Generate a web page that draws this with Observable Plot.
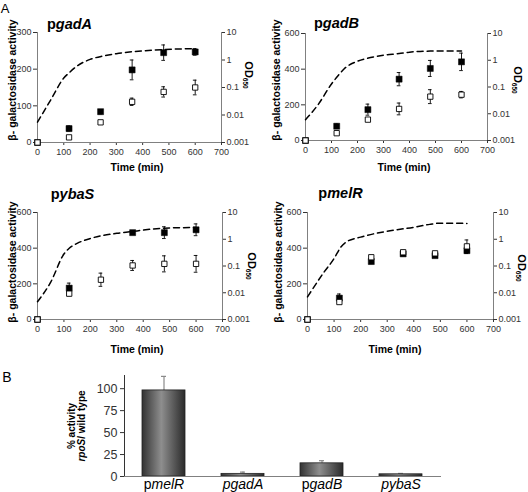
<!DOCTYPE html>
<html>
<head>
<meta charset="utf-8">
<script src="https://cdn.jsdelivr.net/npm/d3@7"></script>
<script src="https://cdn.jsdelivr.net/npm/@observablehq/plot@0.6"></script>
<style>
  html, body { margin: 0; padding: 0; background: #fff; }
  #root { position: relative; width: 528px; height: 492px; overflow: hidden; background: #fff;
          font-family: "Liberation Sans", Arial, sans-serif; color: #000; }
</style>
</head>
<body>
<div id="root"></div>
<script>
// ---------------- data ----------------
const timePoints = [0, 120, 240, 360, 480, 600];
const xTicks = [0, 100, 200, 300, 400, 500, 600, 700];
const odTicks = [0.001, 0.01, 0.1, 1, 10];

// pgadA
const gadA_filled = [0, 38, 84, 198, 245, 247];
const gadA_filledErr = [0, 7, 6, 27, 21, 9];
const gadA_open = [0, 14, 55, 111, 138, 150];
const gadA_openErr = [0, 4, 3, 10, 14, 20];
const gadA_odTime = [0, 50, 100, 120, 150, 200, 250, 300, 360, 400, 480, 600];
const gadA_od = [0.0055, 0.035, 0.22, 0.34, 0.6, 1.05, 1.4, 1.7, 2.0, 2.15, 2.4, 2.6];

// pgadB
const gadB_filled = [0, 80, 173, 344, 404, 441];
const gadB_filledErr = [0, 12, 31, 37, 45, 49];
const gadB_open = [0, 41, 117, 177, 246, 257];
const gadB_openErr = [0, 5, 10, 33, 39, 18];
const gadB_odTime = [0, 50, 100, 120, 150, 200, 250, 300, 360, 400, 480, 600];
const gadB_od = [0.006, 0.023, 0.13, 0.23, 0.49, 0.92, 1.26, 1.55, 1.78, 2.0, 2.2, 2.24];

// pybaS
const ybaS_filled = [0, 176, null, 487, 487, 503];
const ybaS_filledErr = [0, 28, 0, 10, 33, 33];
const ybaS_open = [0, 145, 223, 303, 312, 312];
const ybaS_openErr = [0, 12, 37, 28, 45, 47];
const ybaS_odTime = [0, 50, 100, 120, 150, 200, 300, 360, 400, 480, 600];
const ybaS_od = [0.0046, 0.025, 0.28, 0.46, 0.7, 1.07, 1.66, 1.95, 2.2, 2.6, 2.75];

// pmelR
const melR_filled = [0, 120, 325, 368, 358, 386];
const melR_filledErr = [0, 23, 12, 5, 5, 16];
const melR_open = [0, 98, 349, 377, 371, 410];
const melR_openErr = [0, 8, 8, 6, 6, 36];
const melR_odTime = [0, 60, 100, 125, 145, 200, 300, 400, 460, 500, 600];
const melR_od = [0.007, 0.055, 0.19, 0.5, 0.78, 1.2, 2.0, 2.8, 3.6, 4.0, 3.9];

// panel B
const barNames = ["pmelR", "pgadA", "pgadB", "pybaS"];
const barValues = [98, 3, 15, 2.5];
const barErrors = [16, 2, 3, 1];
const barItalicFrom = [1, 0, 1, 0];
const barTicks = [0, 25, 50, 75, 100];

// ---------------- drawing ----------------
const NS = "http://www.w3.org/2000/svg";
const FONT = '"Liberation Sans", Arial, sans-serif';
const root = document.getElementById("root");
const AXIS = "#808080";

function mkRows(vals, errs) {
  return timePoints.map((t, i) => ({t, v: vals[i], e: errs[i]})).filter(d => d.v != null);
}
function errMarks(rows) {
  const r = rows.filter(d => d.e > 0);
  const cap = 7;
  return [
    Plot.ruleX(r, {x: "t", y1: d => d.v - d.e, y2: d => d.v + d.e, stroke: "#000", strokeWidth: 0.9}),
    Plot.ruleY(r, {y: d => d.v - d.e, x1: d => d.t - cap, x2: d => d.t + cap, stroke: "#000", strokeWidth: 0.9}),
    Plot.ruleY(r, {y: d => d.v + d.e, x1: d => d.t - cap, x2: d => d.t + cap, stroke: "#000", strokeWidth: 0.9})
  ];
}

function panel(cfg) {
  const box = document.createElement("div");
  box.style.cssText = `position:absolute;left:${cfg.left}px;top:${cfg.top}px;width:${cfg.w}px;height:${cfg.h}px;`;
  const common = {
    width: cfg.w, height: cfg.h,
    marginTop: cfg.mt, marginRight: cfg.mr, marginBottom: cfg.mb, marginLeft: cfg.ml,
    style: {background: "transparent", fontFamily: FONT, fontSize: "9px", color: "#333", overflow: "visible"}
  };
  const filled = mkRows(cfg.filled, cfg.filledErr);
  const open = mkRows(cfg.open, cfg.openErr);
  const lin = Plot.plot({
    ...common,
    x: {domain: [0, 700], ticks: xTicks, tickSize: 3, tickPadding: 3, label: null},
    y: {domain: [0, cfg.ymax], ticks: cfg.yTicks, tickSize: 4, tickPadding: 2, label: null},
    marks: [
      Plot.ruleX([0], {stroke: AXIS}),
      Plot.ruleY([0], {stroke: AXIS}),
      ...errMarks(open),
      ...errMarks(filled),
      Plot.dot(filled, {x: "t", y: "v", symbol: "square", r: 3.4, fill: "#000", stroke: "#000", strokeWidth: 0.5}),
      Plot.dot(open, {x: "t", y: "v", symbol: "square", r: 3.0, fill: "#fff", stroke: "#000", strokeWidth: 0.9})
    ]
  });
  const od = cfg.odTime.map((t, i) => ({t, od: cfg.od[i]}));
  const lg = Plot.plot({
    ...common,
    x: {domain: [0, 700], axis: null},
    y: {type: "log", domain: [0.001, 10], ticks: odTicks, tickFormat: d => String(d),
        axis: "right", tickSize: 3, tickPadding: 2, label: null},
    marks: [
      Plot.ruleX([700], {stroke: AXIS}),
      Plot.line(od, {x: "t", y: "od", stroke: "#000", strokeWidth: 1.5, strokeDasharray: "6,4", curve: "monotone-x"})
    ]
  });
  for (const s of [lin, lg]) {
    s.style.position = "absolute";
    s.style.left = "0px";
    s.style.top = "0px";
    box.appendChild(s);
  }
  root.appendChild(box);
}

panel({left: 0, top: 0, w: 264, h: 172, mt: 32, mr: 43, mb: 30, ml: 37, ymax: 300, yTicks: [0, 100, 200, 300],
  filled: gadA_filled, filledErr: gadA_filledErr, open: gadA_open, openErr: gadA_openErr, odTime: gadA_odTime, od: gadA_od});
panel({left: 264, top: 0, w: 264, h: 172, mt: 33, mr: 41, mb: 32, ml: 41, ymax: 600, yTicks: [0, 200, 400, 600],
  filled: gadB_filled, filledErr: gadB_filledErr, open: gadB_open, openErr: gadB_openErr, odTime: gadB_odTime, od: gadB_od});
panel({left: 0, top: 172, w: 264, h: 178, mt: 40, mr: 42, mb: 31, ml: 37, ymax: 600, yTicks: [0, 200, 400, 600],
  filled: ybaS_filled, filledErr: ybaS_filledErr, open: ybaS_open, openErr: ybaS_openErr, odTime: ybaS_odTime, od: ybaS_od});
panel({left: 264, top: 172, w: 264, h: 178, mt: 40, mr: 35, mb: 31, ml: 43, ymax: 600, yTicks: [0, 200, 400, 600],
  filled: melR_filled, filledErr: melR_filledErr, open: melR_open, openErr: melR_openErr, odTime: melR_odTime, od: melR_od});

// ---------- panel B: bar chart ----------
const bars = barNames.map((n, i) => ({name: n, value: barValues[i], err: barErrors[i]}));
const barSvg = Plot.plot({
  width: 528, height: 152, marginTop: 35, marginRight: 87, marginBottom: 16, marginLeft: 124,
  style: {background: "transparent", fontFamily: FONT, fontSize: "12.5px", color: "#333", overflow: "visible"},
  x: {domain: barNames, paddingInner: 0.45, paddingOuter: 0.21, tickSize: 0, tickPadding: 3, label: null},
  y: {domain: [0, 115], ticks: barTicks, tickSize: 4, tickPadding: 3, label: null, line: true},
  marks: [
    Plot.ruleX(bars, {x: "name", y1: "value", y2: d => d.value + d.err, stroke: "#8a8a8a", strokeWidth: 1.2}),
    Plot.tickY(bars, {x: "name", y: d => d.value + d.err, stroke: "#8a8a8a", strokeWidth: 1.2, insetLeft: 19, insetRight: 19}),
    Plot.barY(bars, {x: "name", y: "value", fill: "url(#barGrad)", stroke: "#222", strokeWidth: 0.8}),
    Plot.ruleY([0], {stroke: AXIS})
  ]
});
const defs = document.createElementNS(NS, "defs");
defs.innerHTML = '<linearGradient id="barGrad" x1="0" x2="1" y1="0" y2="0">' +
  '<stop offset="0" stop-color="#333"/><stop offset="0.45" stop-color="#8e8e8e"/><stop offset="1" stop-color="#2a2a2a"/></linearGradient>';
barSvg.insertBefore(defs, barSvg.firstChild);
barSvg.querySelectorAll("text").forEach(t => {
  const i = barNames.indexOf(t.textContent);
  if (i < 0) return;
  const s = barNames[i], k = barItalicFrom[i];
  t.textContent = "";
  if (k > 0) {
    const a = document.createElementNS(NS, "tspan");
    a.textContent = s.slice(0, k);
    t.appendChild(a);
  }
  const b = document.createElementNS(NS, "tspan");
  b.setAttribute("font-style", "italic");
  b.textContent = s.slice(k);
  t.appendChild(b);
  t.style.fontSize = "14px";
  t.setAttribute("fill", "#000");
});
barSvg.style.position = "absolute";
barSvg.style.left = "0px";
barSvg.style.top = "340px";
root.appendChild(barSvg);

// ---------- text labels ----------
function label(html, x, y, size, rot, weight, lh) {
  const d = document.createElement("div");
  d.innerHTML = html;
  d.style.cssText = `position:absolute;left:${x}px;top:${y}px;font-size:${size}px;font-weight:${weight};` +
    `white-space:nowrap;line-height:${lh || 1.1};text-align:center;color:#000;` +
    `transform:translate(-50%,-50%) rotate(${rot}deg);`;
  root.appendChild(d);
}
label("A", 5, 8, 13, 0, "normal", 1);
label("B", 7, 378, 14, 0, "normal");

label("p<i>gadA</i>", 69.5, 25, 14.5, 0, "bold");
label("p<i>gadB</i>", 336.5, 24, 14.5, 0, "bold");
label("p<i>ybaS</i>", 72.5, 195, 14.5, 0, "bold");
label("p<i>melR</i>", 340.5, 194, 14.5, 0, "bold");

const yLab = "β- galactosidase activity";
label(yLab, 13, 80, 10.5, -90, "bold");
label(yLab, 277, 80, 10.5, -90, "bold");
label(yLab, 13, 262, 10.5, -90, "bold");
label(yLab, 279, 262, 10.5, -90, "bold");

const odLab = 'OD<sub style="font-size:6.5px;vertical-align:-2px">650</sub>';
label(odLab, 248, 75, 11, 90, "bold");
label(odLab, 517, 80, 11, 90, "bold");
label(odLab, 251, 266, 11, 90, "bold");
label(odLab, 521, 268, 11, 90, "bold");

label("Time (min)", 137, 168, 10.5, 0, "bold");
label("Time (min)", 404, 168, 10.5, 0, "bold");
label("Time (min)", 137, 350, 10.5, 0, "bold");
label("Time (min)", 395, 350, 10.5, 0, "bold");

label('% activity<br><i>rpoS</i>/ wild type', 76, 426, 10, -90, "bold", 0.95);
</script>
</body>
</html>
